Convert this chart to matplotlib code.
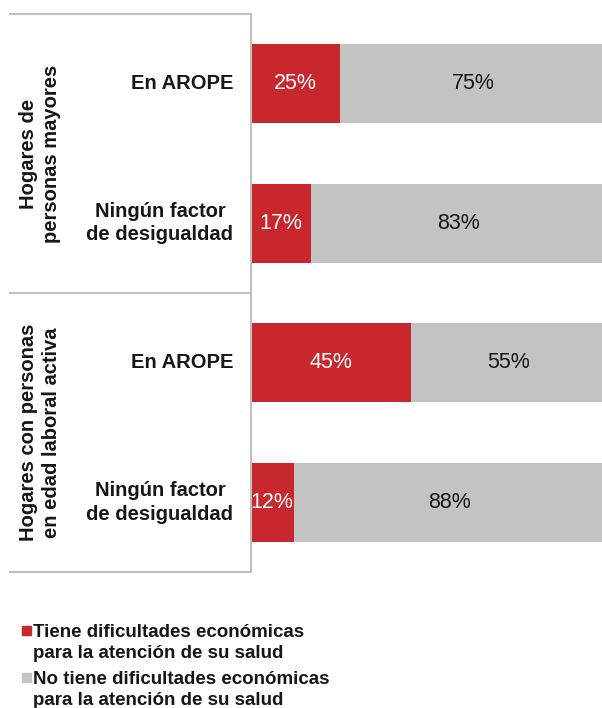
import matplotlib.pyplot as plt
from matplotlib.patches import Rectangle
import matplotlib.transforms as mtransforms

plt.rcParams['font.family'] = ['Liberation Sans', 'DejaVu Sans']

# Data
categories = ['En AROPE', 'Ningún factor\nde desigualdad',
              'En AROPE', 'Ningún factor\nde desigualdad']
groups = ['Hogares de\npersonas mayores',
          'Hogares con personas\nen edad laboral activa']
con_dificultad = [25, 17, 45, 12]
sin_dificultad = [75, 83, 55, 88]
legend_labels = ['Tiene dificultades económicas\npara la atención de su salud',
                 'No tiene dificultades económicas\npara la atención de su salud']

RED = '#c8282d'
GREY = '#c3c3c3'
LINE = '#c0c0c0'
INK = '#161616'

W, H = 602, 708
fig = plt.figure(figsize=(W / 100, H / 100), dpi=100)
ax = fig.add_axes([251 / W, (H - 572) / H, (W - 251) / W, 558 / H])

y = list(range(len(categories)))
ax.barh(y, con_dificultad, height=0.565, color=RED)
ax.barh(y, sin_dificultad, left=con_dificultad, height=0.565, color=GREY)

for i in y:
    a, b = con_dificultad[i], sin_dificultad[i]
    ax.text(a / 2, i, f'{a}%', ha='center', va='center', color='white', fontsize=15.5)
    ax.text(a + b / 2, i, f'{b}%', ha='center', va='center', color=INK, fontsize=15.5)

ax.set_xlim(0, (W - 251) / 355 * 100)
ax.set_ylim(3.5, -0.5)
ax.set_xticks([])
ax.set_yticks([])
for s in ['top', 'right', 'bottom']:
    ax.spines[s].set_visible(False)
ax.spines['left'].set_color(LINE)
ax.spines['left'].set_linewidth(1.5)

# category labels to the left of the bars
trans = mtransforms.blended_transform_factory(ax.transAxes, ax.transData)
for i, lab in enumerate(categories):
    ax.text(-0.05, i, lab, transform=trans, ha='right', va='center',
            multialignment='center', fontsize=14.5, fontweight='bold', color=INK,
            linespacing=1.3)

# group separators and group labels
x_left = (10 - 251) / (W - 251)
for yy in [-0.5, 1.5, 3.5]:
    ax.plot([x_left, 0], [yy, yy], transform=trans, color=LINE, lw=1.5, clip_on=False)
for g, lab in enumerate(groups):
    ax.text((40 - 251) / (W - 251), 2 * g + 0.5, lab, transform=trans, rotation=90,
            ha='center', va='center', multialignment='center', fontsize=14.5,
            fontweight='bold', color=INK, linespacing=1.3)

# legend
for k, (lab, col) in enumerate(zip(legend_labels, [RED, GREY])):
    top = 625 + k * 47
    fig.add_artist(Rectangle((22 / W, 1 - (top + 10) / H), 9 / W, 9 / H,
                             transform=fig.transFigure, color=col))
    fig.text(33 / W, 1 - (top - 1) / H, lab, ha='left', va='top', fontsize=13.5,
             fontweight='bold', color=INK, linespacing=1.3)

fig.savefig('out.png', dpi=100)
